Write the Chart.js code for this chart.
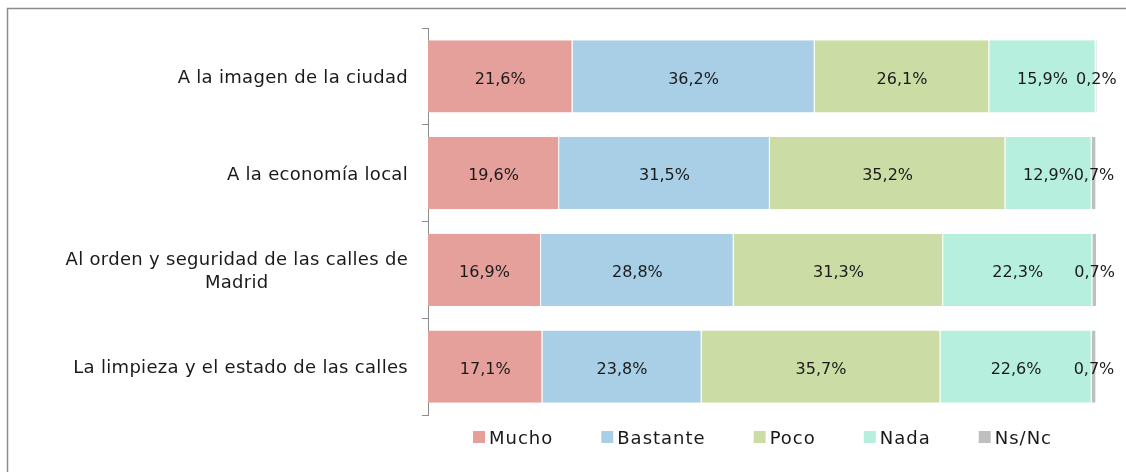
<!DOCTYPE html>
<html>
    <head>
        <meta charset="utf-8">
        <title>Chart</title>
        <script src="https://cdn.jsdelivr.net/npm/chart.js@4/dist/chart.umd.min.js"></script>
        <style>
            html, body { margin: 0; padding: 0; background: #fff; }
            #wrap { width: 1126px; height: 472px; }
        </style>
    </head>
    <body>
        <div id="wrap"><canvas id="chart"></canvas></div>

        <script>
            const categories = [
                'A la imagen de la ciudad',
                'A la economía local',
                ['Al orden y seguridad de las calles de', 'Madrid'],
                'La limpieza y el estado de las calles',
            ]
            const mucho = [21.6, 19.6, 16.9, 17.1]
            const bastante = [36.2, 31.5, 28.8, 23.8]
            const poco = [26.1, 35.2, 31.3, 35.7]
            const nada = [15.9, 12.9, 22.3, 22.6]
            const nsnc = [0.2, 0.7, 0.7, 0.7]

            const FONT = '"DejaVu Sans", sans-serif'
            const TEXT = '#1a1a1a'
            const fmt = v => v.toFixed(1).replace('.', ',') + '%'

            // outer frame, like the office chart border
            const frame = {
                id: 'frame',
                beforeDraw(chart) {
                    const ctx = chart.ctx
                    ctx.save()
                    ctx.strokeStyle = '#8c8c8c'
                    ctx.lineWidth = 1.5
                    ctx.strokeRect(7.5, 8.5, 1200, 600)
                    ctx.restore()
                },
            }

            // value labels in the middle of each segment
            const valueLabels = {
                id: 'valueLabels',
                afterDatasetsDraw(chart) {
                    const ctx = chart.ctx
                    ctx.save()
                    ctx.font = '16px ' + FONT
                    ctx.fillStyle = TEXT
                    ctx.textAlign = 'center'
                    ctx.textBaseline = 'middle'
                    chart.data.datasets.forEach((ds, i) => {
                        chart.getDatasetMeta(i).data.forEach((el, j) => {
                            ctx.fillText(fmt(ds.data[j]), (el.x + el.base) / 2, el.y + 3)
                        })
                    })
                    ctx.restore()
                },
            }

            // category labels, multi-line ones centred as a block
            const catLabels = {
                id: 'catLabels',
                afterDraw(chart) {
                    const ctx = chart.ctx
                    const y = chart.scales.y
                    const right = 408
                    ctx.save()
                    ctx.font = '18px ' + FONT
                    ctx.letterSpacing = '0.3px'
                    ctx.fillStyle = TEXT
                    ctx.textBaseline = 'middle'
                    categories.forEach((lab, i) => {
                        const cy = y.getPixelForTick(i) + 2
                        const lines = Array.isArray(lab) ? lab : [lab]
                        const w = Math.max(...lines.map(l => ctx.measureText(l).width))
                        const lh = 23
                        lines.forEach((l, k) => {
                            const ly = cy + (k - (lines.length - 1) / 2) * lh
                            if (lines.length > 1) {
                                ctx.textAlign = 'center'
                                ctx.fillText(l, right - w / 2, ly)
                            } else {
                                ctx.textAlign = 'right'
                                ctx.fillText(l, right, ly)
                            }
                        })
                    })
                    ctx.restore()
                },
            }

            // legend drawn by hand so the gap between items can differ from the vertical spacing
            const bottomLegend = {
                id: 'bottomLegend',
                afterDraw(chart) {
                    const ctx = chart.ctx
                    const area = chart.chartArea
                    const box = 12, gap = 4, between = 48
                    ctx.save()
                    ctx.font = '18px ' + FONT
                    ctx.letterSpacing = '1px'
                    ctx.textBaseline = 'middle'
                    ctx.textAlign = 'left'
                    const items = chart.data.datasets.map(ds => ({
                        text: ds.label,
                        color: ds.backgroundColor,
                        w: box + gap + ctx.measureText(ds.label).width,
                    }))
                    const total = items.reduce((s, it) => s + it.w, 0) + between * (items.length - 1)
                    let x = (area.left + area.right) / 2 - total / 2
                    const cy = 438
                    items.forEach(it => {
                        ctx.fillStyle = it.color
                        ctx.fillRect(x, cy - 7, box, box)
                        ctx.fillStyle = TEXT
                        ctx.fillText(it.text, x + box + gap, cy + 1)
                        x += it.w + between
                    })
                    ctx.restore()
                },
            }

            const mk = (label, data, color) => ({
                label,
                data,
                backgroundColor: color,
                borderColor: 'rgba(255,255,255,0.7)',
                borderWidth: { right: 1 },
                borderSkipped: false,
                categoryPercentage: 1,
                barPercentage: 0.745,
            })

            new Chart('chart', {
                type: 'bar',
                data: {
                    labels: categories,
                    datasets: [
                        mk('Mucho', mucho, '#e6a09c'),
                        mk('Bastante', bastante, '#a9cfe6'),
                        mk('Poco', poco, '#cbdca5'),
                        mk('Nada', nada, '#b7efde'),
                        mk('Ns/Nc', nsnc, '#bfbfbf'),
                    ],
                },
                options: {
                    indexAxis: 'y',
                    responsive: true,
                    maintainAspectRatio: false,
                    animation: false,
                    layout: { padding: { left: 8, top: 28, right: 29, bottom: 57 } },
                    scales: {
                        x: {
                            stacked: true,
                            min: 0,
                            max: 100,
                            display: false,
                        },
                        y: {
                            stacked: true,
                            afterFit: s => { s.width = 420 },
                            grid: {
                                offset: true,
                                drawOnChartArea: false,
                                tickLength: 6,
                                color: '#8c8c8c',
                            },
                            border: { color: '#8c8c8c' },
                            ticks: { color: 'rgba(0,0,0,0)', font: { size: 17, family: FONT } },
                        },
                    },
                    plugins: {
                        legend: { display: false },
                        tooltip: { enabled: false },
                    },
                },
                plugins: [frame, valueLabels, catLabels, bottomLegend],
            })
        </script>
    </body>
</html>
